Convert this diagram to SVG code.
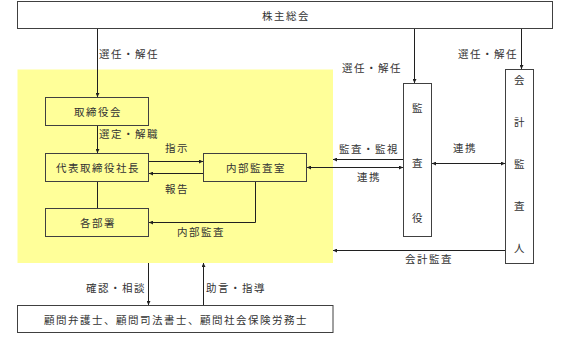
<svg xmlns="http://www.w3.org/2000/svg" width="567" height="348" viewBox="0 0 567 348">
<defs>
<style>
.box{fill:#ffffff;stroke:#404040;stroke-width:1}
.ibox{fill:none;stroke:#404040;stroke-width:1}
.ln{fill:none;stroke:#202020;stroke-width:1}
.t{font-family:"Noto Sans CJK JP","Noto Sans CJK SC",sans-serif;font-size:10.5px;fill:#333333;letter-spacing:1.5px;dominant-baseline:central}
.c{text-anchor:middle}
</style>
<marker id="ah" viewBox="0 0 6 6" refX="6" refY="3" markerWidth="4" markerHeight="4" orient="auto-start-reverse" markerUnits="userSpaceOnUse">
<path d="M0,0 L6,3 L0,6 z" fill="#202020"/>
</marker>
</defs>
<rect x="0" y="0" width="567" height="348" fill="#ffffff"/>
<rect id="area" x="17.5" y="69.5" width="315.5" height="193.5" fill="#ffff99"/>

<g id="shareholders">
<rect class="box" x="17.5" y="1.5" width="535" height="27"/>
<text class="t c" x="286" y="15">株主総会</text>
</g>
<g id="board">
<rect class="ibox" x="45.5" y="97.5" width="103" height="28"/>
<text class="t c" x="98" y="111">取締役会</text>
</g>
<g id="president">
<rect class="ibox" x="45.5" y="153.5" width="103" height="28"/>
<text class="t c" x="98" y="167">代表取締役社長</text>
</g>
<g id="departments">
<rect class="ibox" x="45.5" y="208.5" width="103" height="28"/>
<text class="t c" x="98" y="222">各部署</text>
</g>
<g id="internal-audit">
<rect class="ibox" x="203.5" y="153.5" width="103" height="28"/>
<text class="t c" x="256" y="167">内部監査室</text>
</g>
<g id="auditor">
<rect class="box" x="403.5" y="83.5" width="28" height="153"/>
<text class="t c" x="418" y="107">監</text>
<text class="t c" x="418" y="162">査</text>
<text class="t c" x="418" y="217">役</text>
</g>
<g id="accounting-auditor">
<rect class="box" x="505.5" y="69.5" width="28" height="194"/>
<text class="t c" x="520" y="79">会</text>
<text class="t c" x="520" y="121">計</text>
<text class="t c" x="520" y="163">監</text>
<text class="t c" x="520" y="205">査</text>
<text class="t c" x="520" y="247">人</text>
</g>
<g id="advisors">
<rect class="box" x="17.5" y="305.5" width="315.5" height="27"/>
<text class="t c" x="176" y="319">顧問弁護士、顧問司法書士、顧問社会保険労務士</text>
</g>

<g id="connectors">
<path class="ln" d="M97.5,29 V97" marker-end="url(#ah)"/>
<path class="ln" d="M414.5,29 V83" marker-end="url(#ah)"/>
<path class="ln" d="M521.5,29 V69" marker-end="url(#ah)"/>
<path class="ln" d="M97.5,126 V153" marker-end="url(#ah)"/>
<path class="ln" d="M149,161.5 H203" marker-end="url(#ah)"/>
<path class="ln" d="M203,173.5 H149" marker-end="url(#ah)"/>
<path class="ln" d="M97.5,182 V208"/>
<path class="ln" d="M255.5,182 V222.5 H149" marker-end="url(#ah)"/>
<path class="ln" d="M403,159.5 H333" marker-end="url(#ah)"/>
<path class="ln" d="M307,167.5 H403" marker-start="url(#ah)" marker-end="url(#ah)"/>
<path class="ln" d="M432,163.5 H505" marker-start="url(#ah)" marker-end="url(#ah)"/>
<path class="ln" d="M505,250.5 H333" marker-end="url(#ah)"/>
<path class="ln" d="M148.5,263 V305" marker-end="url(#ah)"/>
<path class="ln" d="M203.5,305 V263" marker-end="url(#ah)"/>
</g>

<g id="labels">
<text class="t" x="99" y="53">選任・解任</text>
<text class="t" x="342" y="67">選任・解任</text>
<text class="t" x="458" y="53">選任・解任</text>
<text class="t" x="99" y="133">選定・解職</text>
<text class="t" x="165" y="147">指示</text>
<text class="t" x="165" y="188">報告</text>
<text class="t" x="177" y="231">内部監査</text>
<text class="t" x="339" y="148">監査・監視</text>
<text class="t" x="357" y="176">連携</text>
<text class="t" x="453" y="147">連携</text>
<text class="t" x="405" y="258">会計監査</text>
<text class="t" x="86" y="287">確認・相談</text>
<text class="t" x="206" y="287">助言・指導</text>
</g>
</svg>
